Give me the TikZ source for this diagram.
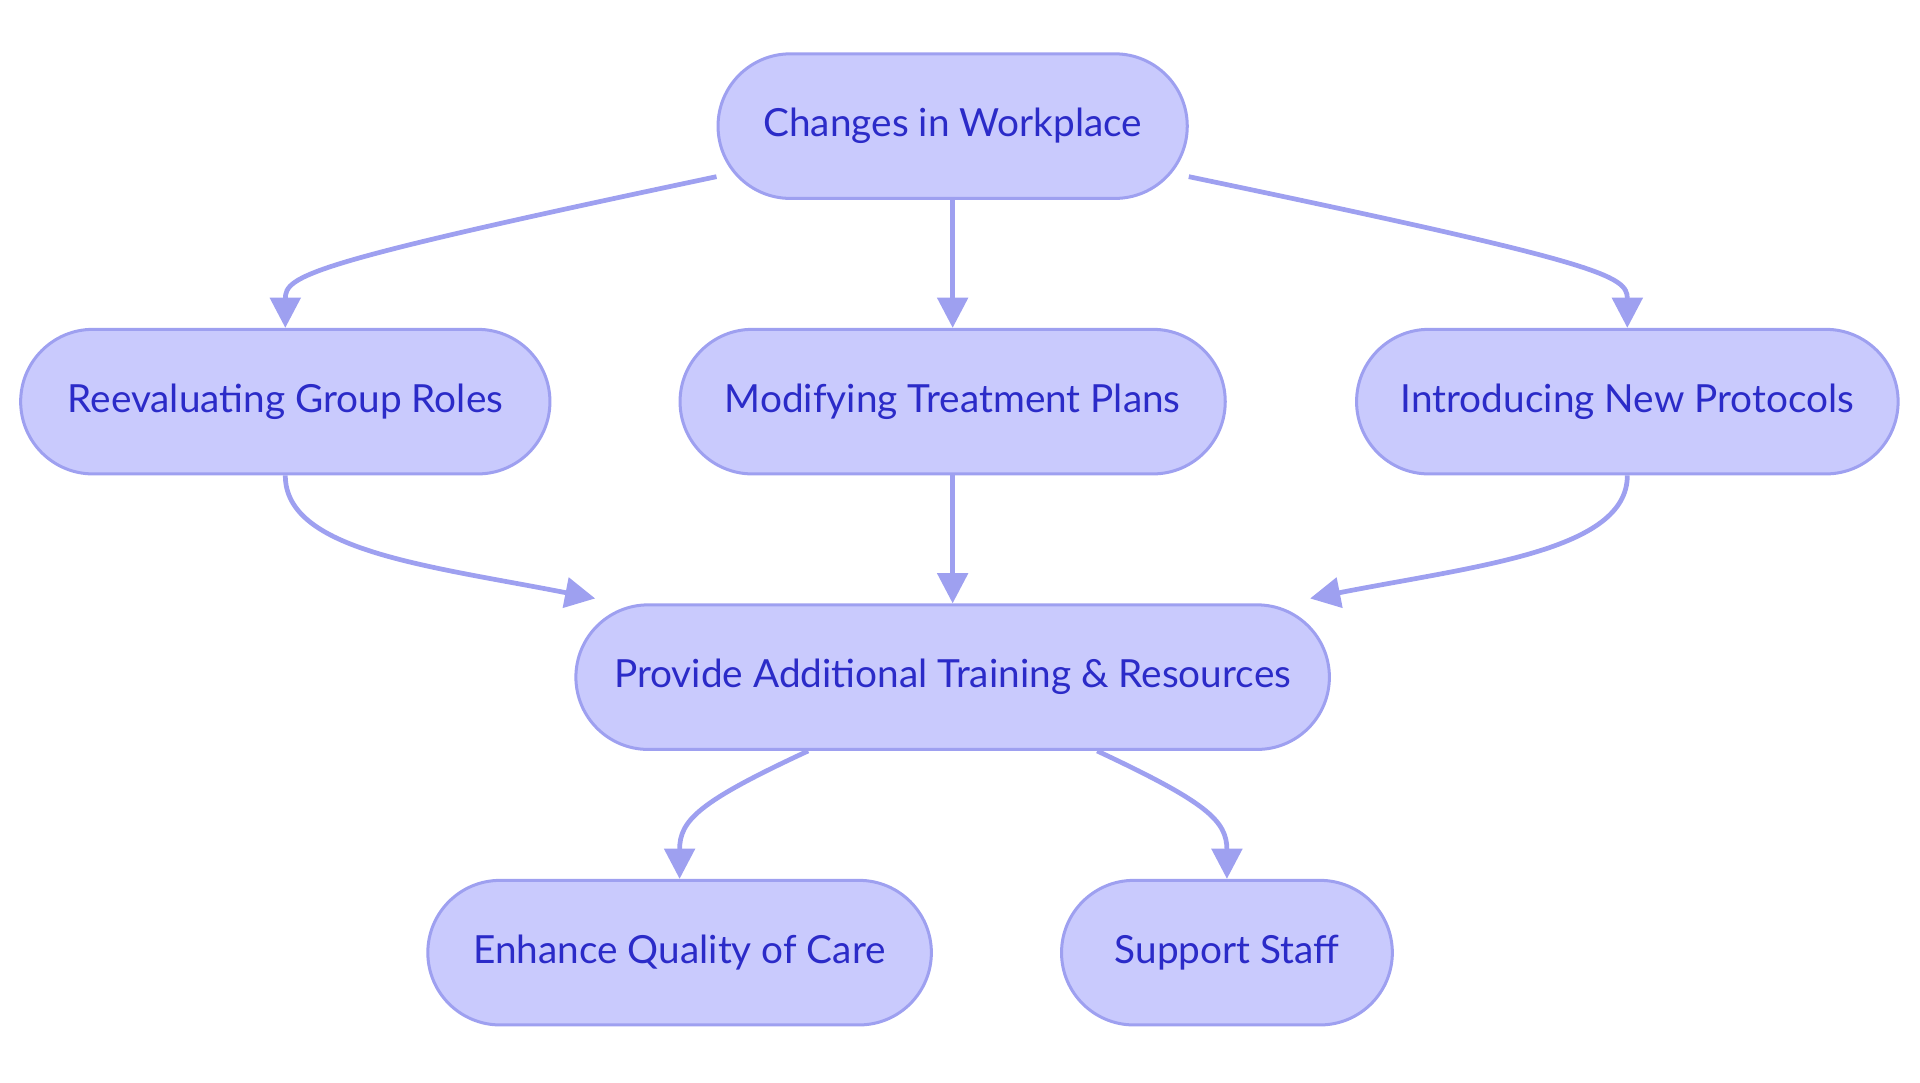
\documentclass[tikz,border=0pt]{standalone}
\usepackage{fontspec}
\setmainfont{Lato}
\usetikzlibrary{calc,arrows.meta}
\definecolor{nfill}{HTML}{C9CAFD}
\definecolor{nline}{HTML}{9EA0F0}
\definecolor{ntext}{HTML}{2B2BC8}
\tikzset{
 box/.style={draw=nline,fill=nfill,line width=0.7pt,rounded corners=0.59cm,minimum height=1.18cm,inner sep=0pt,text=ntext,font=\fontsize{9pt}{11pt}\selectfont},
 conn/.style={draw=nline,line width=1.1pt,-{Triangle[length=7pt,width=7pt]}}
}
\begin{document}
\begin{tikzpicture}[x=0.01cm,y=-0.01cm]
\useasboundingbox (0,0) rectangle (1568,884);
\node[box,minimum width=3.83cm] (ch) at (778,103) {Changes in Workplace};
\node[box,minimum width=4.32cm] (re) at (233,328) {Reevaluating Group Roles};
\node[box,minimum width=4.45cm] (mo) at (778,328) {Modifying Treatment Plans};
\node[box,minimum width=4.42cm] (in) at (1329,328) {Introducing New Protocols};
\node[box,minimum width=6.15cm] (pr) at (778,553) {Provide Additional Training \& Resources};
\node[box,minimum width=4.11cm] (en) at (555,778) {Enhance Quality of Care};
\node[box,minimum width=2.70cm] (su) at (1002,778) {Support Staff};
\coordinate (c1) at ($(ch.south west)+(0,-19)$);
\coordinate (c2) at ($(ch.south east)+(0,-19)$);
\coordinate (p1) at ($(pr.north west)+(17,-4)$);
\coordinate (p2) at ($(pr.north east)+(-17,-4)$);
\coordinate (q1) at ($(pr.south)+(-118,0)$);
\coordinate (q2) at ($(pr.south)+(118,0)$);
\draw[conn] (c1) .. controls (250,215) and (233,225) .. (re.north);
\draw[conn] (c2) .. controls (1310,215) and (1329,225) .. (in.north);
\draw[conn] (ch) -- (mo);
\draw[conn] (re.south) .. controls (233,450) and (350,462) .. (p1);
\draw[conn] (in.south) .. controls (1329,450) and (1206,462) .. (p2);
\draw[conn] (mo) -- (pr);
\draw[conn] (q1) .. controls (570,655) and (555,670) .. (en.north);
\draw[conn] (q2) .. controls (985,655) and (1002,670) .. (su.north);
\end{tikzpicture}
\end{document}
